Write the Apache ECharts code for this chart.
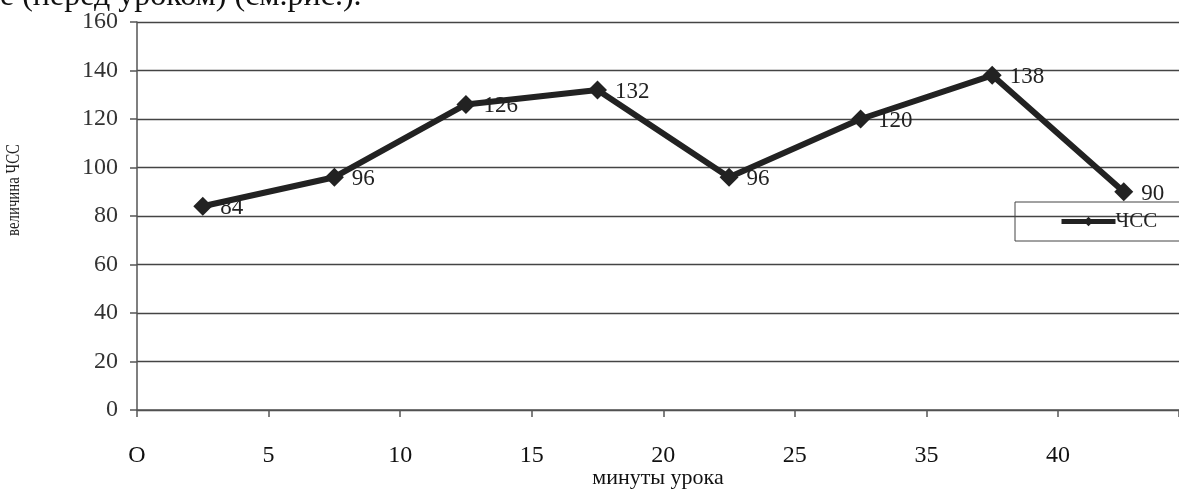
<!DOCTYPE html>
<html><head><meta charset="utf-8">
<script src="https://cdn.jsdelivr.net/npm/echarts@6/dist/echarts.min.js"></script>
<style>html,body{margin:0;padding:0;background:#fff}#c{width:1179px;height:491px}</style>
</head><body><div id="c"></div>
<script>
const xTickLabels = ['O', '5', '10', '15', '20', '25', '35', '40'];
const hrValues = [84, 96, 126, 132, 96, 120, 138, 90];
const seriesName = 'ЧСС';
const yTicks = [0, 20, 40, 60, 80, 100, 120, 140, 160];

const points = hrValues.map((v, i) => [i + 0.5, v]);
const serif = 'Liberation Serif';
const chart = echarts.init(document.getElementById('c'));
chart.setOption({
  animation: false,
  backgroundColor: '#fff',
  grid: { left: 137, right: 0, top: 22, bottom: 81, containLabel: false, outerBoundsMode: 'none' },
  xAxis: {
    type: 'value', min: 0, max: 7.92, interval: 1,
    name: 'минуты урока', nameLocation: 'middle', nameGap: 57, nameMoveOverlap: false,
    nameTextStyle: { fontFamily: serif, fontSize: 22, color: '#111' },
    axisLine: { show: true, onZero: false, lineStyle: { color: '#555', width: 1.5 } },
    axisTick: { show: true, length: 7, lineStyle: { color: '#555', width: 1.5 } },
    axisLabel: { margin: 34, fontFamily: serif, fontSize: 24, color: '#111',
      formatter: v => (Number.isInteger(v) && v < xTickLabels.length) ? xTickLabels[v] : '' },
    splitLine: { show: false }
  },
  yAxis: {
    type: 'value', min: 0, max: 160, interval: 20,
    axisLine: { show: true, lineStyle: { color: '#555', width: 1.5 } },
    axisTick: { show: true, length: 7, lineStyle: { color: '#555', width: 1.5 } },
    axisLabel: { margin: 19, fontFamily: serif, fontSize: 24, color: '#333' },
    splitLine: { show: true, lineStyle: { color: '#444', width: 1.3 } }
  },
  legend: {
    left: 1015, top: 202, orient: 'vertical',
    padding: [9, 60, 9, 44],
    borderColor: '#444', borderWidth: 1,
    itemWidth: 54, itemHeight: 12, itemGap: 0,
    lineStyle: { width: 5, color: '#222' },
    textStyle: { fontFamily: serif, fontSize: 21, color: '#222', padding: [0, 0, 0, -5] },
    data: [seriesName]
  },
  graphic: [
    { type: 'text', left: 0, top: -19, style: { text: 'е (перед уроком) (см.рис.).', font: '32px "Liberation Serif"', fill: '#111' } },
    { type: 'text', x: 14, y: 190, rotation: Math.PI / 2, scaleX: 0.78, style: { text: 'величина ЧСС', font: '19px "Liberation Serif"', fill: '#222', align: 'center', verticalAlign: 'middle' } }
  ],
  series: [{
    name: seriesName, type: 'line', data: points,
    symbol: 'diamond', symbolSize: 19,
    lineStyle: { color: '#222', width: 6 },
    itemStyle: { color: '#222' },
    label: { show: true, position: 'right', distance: 8, offset: [0, 2],
      fontFamily: serif, fontSize: 23, color: '#222', formatter: p => p.value[1] }
  }]
});
</script></body></html>
